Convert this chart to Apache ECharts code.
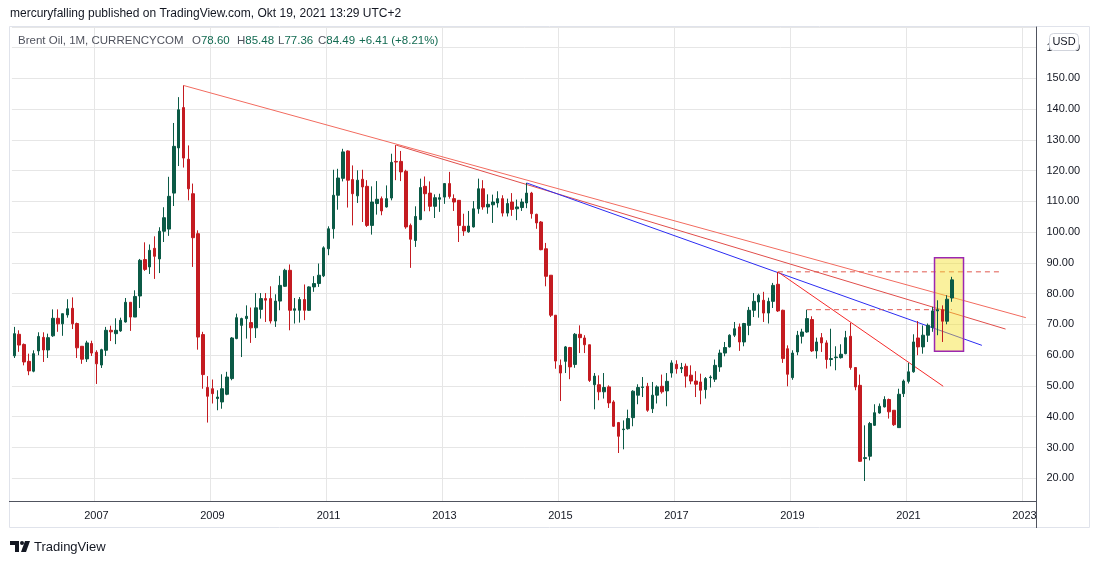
<!DOCTYPE html>
<html>
<head>
<meta charset="utf-8">
<script src="https://cdn.jsdelivr.net/npm/echarts@6/dist/echarts.min.js"></script>
<style>
  html, body { margin: 0; padding: 0; background: #fff; }
  #chart { width: 1100px; height: 564px; }
</style>
</head>
<body>
<div id="chart"></div>
<script>
// monthly candles, first one is 2005-08, last one 2021-10
var firstYear = 2005, firstMonth = 8;
var monthCount = 212; // time axis runs on to 2023-03

var opens = [
  59.8, 66.8, 63.5, 58.0, 54.8,
  61.4, 65.8, 61.7, 66.3, 72.0, 70.2, 73.1, 75.25, 70.3, 62.9, 58.8, 63.8,
  60.95, 56.8, 61.6, 68.1, 67.0, 67.9, 70.8, 77.2, 72.4, 79.25, 91.1, 88.7,
  94.75, 91.3, 100.3, 101.0, 112.7, 127.4, 140.5, 123.7, 112.5, 99.5, 66.7, 49.5,
  49.1, 45.9, 44.8, 47.3, 52.4, 65.4, 69.7, 71.9, 70.6, 68.9, 74.9, 78.4,
  78.4, 71.1, 77.6, 82.4, 87.6, 74.6, 74.6, 78.1, 74.6, 82.2, 83.3, 85.8,
  94.6, 101.1, 112.0, 117.5, 126.4, 117.1, 111.8, 117.2, 114.9, 102.2, 109.3, 110.9,
  108.2, 111.1, 123.0, 123.0, 119.8, 102.2, 97.3, 104.1, 114.9, 112.7, 108.4, 110.7,
  111.4, 115.8, 110.9, 110.35, 101.9, 100.1, 101.7, 107.6, 114.1, 108.2, 108.9, 109.5,
  110.9, 106.2, 109.8, 107.6, 108.0, 109.5, 112.7, 105.8, 103.3, 94.6, 86.0, 73.0,
  56.7, 58.0, 62.5, 57.0, 66.8, 65.6, 63.4, 50.4, 50.4, 48.1, 49.7, 44.8,
  38.1, 35.8, 36.1, 39.7, 47.0, 49.5, 49.9, 42.6, 47.0, 49.9, 48.4, 54.2,
  57.05, 55.6, 56.4, 53.5, 51.6, 51.3, 48.8, 52.7, 52.2, 56.2, 60.7, 62.7,
  66.5, 69.2, 64.3, 69.7, 74.6, 77.3, 77.85, 73.7, 77.5, 83.05, 74.6, 62.1,
  52.7, 61.06, 66.15, 67.55, 71.6, 61.4, 65.7, 64.0, 58.6, 59.2, 59.2, 60.5,
  66.15, 56.0, 50.2, 26.4, 27.15, 37.2, 41.2, 43.2, 45.6, 42.1, 36.45, 47.5,
  51.5, 54.6, 65.6, 62.7, 66.5, 69.0, 74.4, 74.8, 71.05, 78.60
];
var closes = [
  67.0, 63.3, 57.8, 54.9, 60.5,
  66.1, 61.7, 65.7, 72.0, 70.2, 73.5, 75.1, 70.2, 62.4, 58.7, 64.0, 60.7,
  57.2, 61.8, 68.1, 67.6, 68.1, 71.35, 77.2, 72.4, 79.1, 90.85, 87.9, 94.1,
  92.15, 100.3, 104.7, 111.65, 127.9, 139.8, 124.1, 114.1, 98.2, 65.9, 53.7, 46.65,
  47.5, 46.4, 49.1, 52.9, 65.6, 72.2, 71.9, 72.65, 68.9, 75.4, 78.4, 77.9,
  71.1, 77.6, 82.7, 87.6, 74.6, 75.1, 78.1, 74.6, 82.2, 83.3, 86.0, 94.9,
  101.1, 112.0, 117.6, 126.1, 116.9, 112.5, 116.9, 114.7, 102.2, 109.8, 110.7, 106.9,
  110.9, 122.7, 122.8, 119.6, 101.7, 97.7, 105.1, 114.5, 112.5, 108.4, 111.2, 111.2,
  115.8, 111.6, 109.8, 102.2, 100.4, 102.0, 107.6, 114.1, 108.2, 109.05, 109.8, 110.9,
  106.2, 109.3, 107.4, 108.2, 109.8, 112.7, 106.0, 103.0, 94.3, 85.65, 73.0, 58.1,
  54.2, 62.7, 56.2, 66.8, 65.7, 63.4, 51.8, 53.2, 48.1, 49.5, 44.5, 36.9,
  33.65, 36.0, 39.4, 48.3, 49.5, 49.7, 42.1, 47.0, 49.7, 48.1, 51.5, 57.5,
  55.6, 56.0, 53.2, 51.6, 50.55, 48.6, 52.4, 52.9, 56.7, 60.7, 62.5, 66.5,
  68.6, 64.3, 70.3, 74.6, 77.5, 79.5, 73.7, 77.5, 82.7, 74.4, 58.9, 53.8,
  60.7, 66.5, 67.55, 71.9, 61.4, 64.3, 64.0, 58.6, 58.9, 59.4, 60.3, 65.7,
  56.0, 49.7, 25.5, 26.7, 37.8, 41.3, 43.4, 45.6, 41.6, 37.4, 47.3, 51.6,
  54.6, 64.3, 62.7, 66.5, 69.7, 74.4, 74.8, 71.05, 78.2, 84.49
];
var highs = [
  69.2, 68.1, 63.8, 60.5, 61.6,
  67.45, 67.45, 67.0, 74.9, 74.9, 73.5, 78.2, 78.8, 70.6, 62.9, 64.7, 64.7,
  61.6, 62.1, 69.2, 69.6, 72.0, 72.2, 78.6, 77.2, 81.1, 91.3, 96.7, 96.0,
  98.65, 101.6, 108.1, 118.0, 135.5, 143.9, 147.7, 128.2, 115.8, 100.6, 67.6, 53.2,
  52.1, 48.6, 53.8, 54.6, 65.9, 73.5, 72.2, 76.2, 75.5, 80.2, 80.2, 80.2,
  82.4, 79.8, 85.8, 88.1, 89.5, 78.6, 78.9, 83.0, 82.4, 85.7, 89.8, 95.4,
  101.9, 120.3, 120.6, 127.1, 126.6, 121.7, 120.1, 120.3, 116.9, 114.9, 116.6, 111.6,
  115.2, 125.5, 128.3, 126.4, 120.3, 102.8, 108.4, 117.4, 118.1, 116.5, 112.3, 112.5,
  115.9, 119.6, 112.3, 110.35, 106.0, 106.9, 110.1, 117.4, 116.9, 112.3, 112.2, 113.3,
  112.0, 110.9, 112.7, 110.6, 110.9, 116.0, 113.1, 106.0, 103.6, 96.5, 86.0, 73.0,
  58.6, 63.0, 62.7, 67.2, 69.7, 66.5, 63.4, 54.2, 53.45, 54.2, 50.2, 45.35,
  38.3, 38.8, 42.3, 48.6, 50.55, 52.9, 51.0, 51.3, 50.2, 53.7, 54.2, 58.35,
  58.35, 57.5, 57.3, 56.7, 54.8, 54.0, 52.9, 53.45, 58.6, 61.8, 64.3, 66.8,
  70.8, 70.3, 70.5, 75.7, 80.2, 80.0, 80.6, 78.7, 83.5, 87.06, 74.8, 63.2,
  61.6, 67.9, 68.6, 74.8, 72.65, 65.7, 67.2, 64.85, 68.6, 62.9, 63.55, 67.9,
  70.5, 56.0, 53.7, 37.2, 38.3, 44.05, 44.3, 46.65, 45.9, 42.1, 49.1, 52.1,
  57.5, 66.8, 71.1, 69.7, 70.3, 75.7, 77.85, 76.2, 79.5, 85.48
];
var lows = [
  59.1, 61.1, 56.7, 53.5, 54.45,
  60.0, 57.8, 59.1, 65.95, 67.6, 66.3, 72.2, 68.5, 59.1, 57.2, 57.8, 59.75,
  50.65, 55.85, 59.75, 64.6, 63.6, 67.6, 70.6, 67.9, 72.4, 75.35, 87.4, 86.4,
  84.8, 86.7, 96.8, 98.8, 108.5, 121.5, 121.0, 110.35, 88.7, 61.8, 49.1, 38.1,
  44.3, 42.1, 42.6, 47.0, 51.85, 65.2, 59.4, 65.4, 64.0, 65.6, 71.9, 70.8,
  70.3, 69.2, 74.6, 82.2, 68.1, 70.3, 70.6, 71.4, 74.4, 80.6, 82.2, 85.4,
  92.5, 97.9, 107.3, 116.5, 108.0, 102.2, 109.5, 103.3, 101.7, 99.2, 105.7, 105.5,
  108.0, 110.35, 116.9, 116.6, 101.1, 88.4, 95.2, 103.9, 106.8, 106.8, 104.6, 106.6,
  109.2, 110.9, 106.9, 96.8, 98.8, 99.8, 101.5, 106.0, 107.3, 106.0, 103.0, 108.0,
  105.1, 105.1, 105.3, 103.9, 106.9, 107.8, 104.4, 101.1, 94.1, 82.4, 72.4, 55.6,
  45.1, 54.2, 52.2, 55.9, 60.7, 60.7, 51.3, 42.4, 45.35, 45.9, 42.85, 36.7,
  28.2, 29.4, 35.8, 36.9, 44.05, 46.4, 41.6, 41.2, 44.3, 47.5, 43.4, 52.7,
  54.0, 54.2, 49.5, 50.55, 46.4, 44.05, 45.9, 49.5, 51.3, 54.6, 59.65, 62.5,
  65.9, 61.4, 62.9, 66.5, 72.4, 72.2, 70.8, 70.3, 75.35, 74.06, 57.5, 49.9,
  52.0, 60.0, 63.8, 67.3, 61.06, 58.9, 61.06, 55.65, 56.4, 55.1, 58.9, 60.3,
  55.3, 48.6, 25.3, 19.1, 25.8, 37.0, 41.0, 43.0, 39.4, 37.0, 36.45, 46.4,
  50.8, 54.3, 60.0, 60.5, 64.3, 67.6, 66.5, 64.3, 70.05, 77.36
];

// drawings: [month index from 2005-08, price]
var trendFrom2008 = [[35, 147.7], [209.3, 72.2]];
var trendFrom2012 = [[79, 128.3], [205.1, 68.5]];
var trendFrom2014 = [[106, 116.0], [200.2, 63.2]];
var trendFrom2018 = [[158, 87.06], [192.2, 49.9]];
var level87 = [[158, 87.1], [204.3, 87.1]];
var level75 = [[164, 74.8], [194, 74.8]];
var boxRange = [[190.4, 91.7, 196.4, 61.3]];

var UP = '#0b5a46', DOWN = '#c41b21';
var FONT = '"Liberation Sans", Arial, sans-serif';
var LEG = '11.5px ' + FONT;

var months = [];
for (var i = 0; i < monthCount; i++) {
  var y = firstYear + Math.floor((firstMonth - 1 + i) / 12);
  var m = (firstMonth - 1 + i) % 12 + 1;
  months.push(y + '-' + (m < 10 ? '0' + m : m));
}
var ohlc = opens.map(function (o, i) { return [o, closes[i], lows[i], highs[i]]; });

function yearTick(idx, val) {
  return val.slice(5) === '01' && (+val.slice(0, 4)) % 2 === 1;
}

function drawing(data, color, dashed) {
  return {
    type: 'line', xAxisIndex: 1, yAxisIndex: 0, data: data,
    symbol: 'none', silent: true, z: 2,
    lineStyle: { color: color, width: 1, type: dashed ? [5, 4] : 'solid' }
  };
}

function ohlcText(x, letter, value) {
  return {
    type: 'text', z: 50, x: x, y: 41,
    style: {
      text: '{g|' + letter + '}{v|' + value + '}', font: LEG, textVerticalAlign: 'middle',
      rich: { g: { fill: '#50535e', font: LEG }, v: { fill: '#136b52', font: LEG } }
    }
  };
}

var myChart = echarts.init(document.getElementById('chart'));
var option = {
  animation: false,
  grid: { left: 11.9, right: 63.5, top: 27, bottom: 63 },
  xAxis: [{
    type: 'category',
    data: months,
    boundaryGap: true,
    axisLine: { onZero: false, lineStyle: { color: '#50535e' } },
    axisTick: { show: false },
    axisLabel: {
      interval: yearTick,
      formatter: function (v) { return v.slice(0, 4); },
      color: '#131722', fontSize: 11, fontFamily: FONT, margin: 9
    },
    splitLine: { show: true, interval: yearTick, lineStyle: { color: '#e6e6e6' } }
  }, {
    type: 'value', min: -0.5, max: monthCount - 0.5, show: false
  }],
  yAxis: [{
    type: 'value',
    position: 'right',
    min: 12.6, max: 166.7,
    splitNumber: 15, minInterval: 10, maxInterval: 10,
    axisLine: { show: true, onZero: false, lineStyle: { color: '#50535e' } },
    axisTick: { show: false },
    axisLabel: {
      formatter: function (v) { return Math.abs(v % 10) < 1e-6 ? v.toFixed(2) : ''; },
      color: '#131722', fontSize: 11, fontFamily: FONT, margin: 10
    },
    splitLine: { lineStyle: { color: '#e6e6e6' } }
  }],
  series: [
    drawing(trendFrom2008, '#f26b5f'),
    drawing(trendFrom2012, '#e04e4b'),
    drawing(trendFrom2014, '#2c2cf2'),
    drawing(trendFrom2018, '#f52a2a'),
    drawing(level87, '#e05a50', true),
    drawing(level75, '#e05a50', true),
    {
      type: 'custom', xAxisIndex: 1, yAxisIndex: 0, z: 3, silent: true,
      data: boxRange,
      encode: { x: [0, 2], y: [1, 3] },
      renderItem: function (params, api) {
        var p0 = api.coord([api.value(0), api.value(1)]);
        var p1 = api.coord([api.value(2), api.value(3)]);
        return {
          type: 'rect',
          shape: { x: p0[0], y: p0[1], width: p1[0] - p0[0], height: p1[1] - p0[1] },
          style: { fill: 'rgba(245,224,40,0.45)', stroke: '#9c27b0', lineWidth: 1.5 }
        };
      }
    },
    {
      type: 'candlestick', name: 'Brent Oil',
      xAxisIndex: 0, yAxisIndex: 0, z: 5,
      data: ohlc,
      barWidth: 3,
      itemStyle: { color: UP, color0: DOWN, borderColor: UP, borderColor0: DOWN, borderWidth: 1 }
    }
  ],
  graphic: [
    { type: 'rect', z: 0, silent: true, shape: { x: 9.5, y: 26.5, width: 1080, height: 501 },
      style: { fill: 'none', stroke: '#e0e3eb', lineWidth: 1 } },
    { type: 'line', z: 50, silent: true, shape: { x1: 9, y1: 501.5, x2: 1036, y2: 501.5 },
      style: { stroke: '#50535e', lineWidth: 1 } },
    { type: 'line', z: 50, silent: true, shape: { x1: 1036.5, y1: 501, x2: 1036.5, y2: 528 },
      style: { stroke: '#50535e', lineWidth: 1 } },
    { type: 'text', z: 50, x: 10, y: 14,
      style: { text: 'mercuryfalling published on TradingView.com, Okt 19, 2021 13:29 UTC+2',
               font: '12px ' + FONT, fill: '#131722', textVerticalAlign: 'middle' } },
    { type: 'text', z: 50, x: 18, y: 41,
      style: { text: 'Brent Oil, 1M, CURRENCYCOM', font: LEG, fill: '#50535e', textVerticalAlign: 'middle' } },
    ohlcText(192, 'O', '78.60'),
    ohlcText(237, 'H', '85.48'),
    ohlcText(278, 'L', '77.36'),
    ohlcText(318, 'C', '84.49'),
    { type: 'text', z: 50, x: 359, y: 41,
      style: { text: '+6.41 (+8.21%)', font: LEG, fill: '#136b52', textVerticalAlign: 'middle' } },
    { type: 'rect', z: 60, silent: true, shape: { x: 1049.5, y: 33.5, width: 29, height: 17, r: 4 },
      style: { fill: '#fff', stroke: '#d1d4dc', lineWidth: 1 } },
    { type: 'text', z: 61, x: 1064, y: 42,
      style: { text: 'USD', font: '11px ' + FONT, fill: '#131722', textAlign: 'center', textVerticalAlign: 'middle' } },
    { type: 'polygon', z: 50, silent: true,
      shape: { points: [[10, 541], [19, 541], [19, 552], [15, 552], [15, 545], [10, 545]] },
      style: { fill: '#131722' } },
    { type: 'circle', z: 50, silent: true, shape: { cx: 22, cy: 543, r: 2 }, style: { fill: '#131722' } },
    { type: 'polygon', z: 50, silent: true,
      shape: { points: [[25, 541], [30, 541], [26, 552], [21, 552]] },
      style: { fill: '#131722' } },
    { type: 'text', z: 50, x: 34, y: 547,
      style: { text: 'TradingView', font: '13px ' + FONT, fill: '#131722', textVerticalAlign: 'middle' } }
  ]
};
myChart.setOption(option);
window.onresize = myChart.resize;
</script>
</body>
</html>
